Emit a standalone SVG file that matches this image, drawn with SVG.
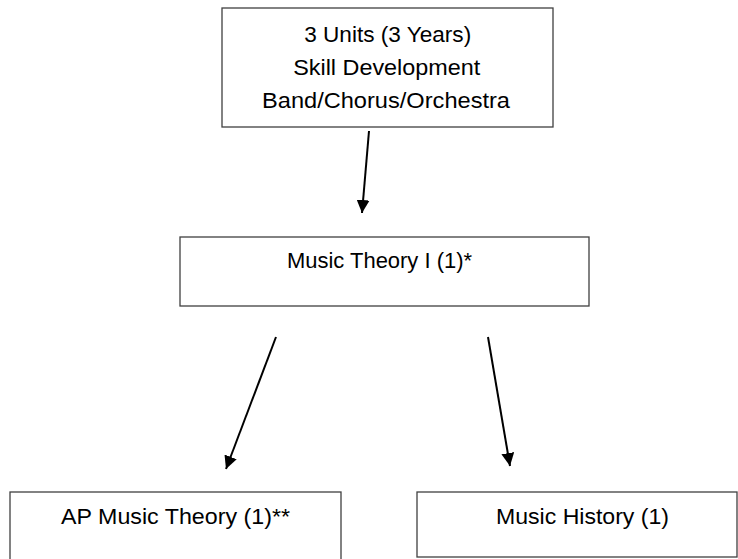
<svg xmlns="http://www.w3.org/2000/svg" width="738" height="559" viewBox="0 0 738 559">
<style>
.box{fill:#ffffff;stroke:#404040;stroke-width:1.3}
.t{font-family:"Liberation Sans",Arial,sans-serif;font-size:22px;fill:#000000;text-anchor:middle}
.c{stroke:#000000;stroke-width:2;fill:none}
</style>
<defs>
<marker id="ah" viewBox="0 0 10 10" refX="10" refY="5" markerWidth="6.5" markerHeight="6.5" markerUnits="strokeWidth" orient="auto">
<path d="M0,0 L10,5 L0,10 Z" fill="#000000"/>
</marker>
</defs>
<rect width="738" height="559" fill="#ffffff"/>
<g id="node-skill">
<rect class="box" x="222" y="8" width="331" height="119"/>
<text class="t" x="387.7" y="42" textLength="167" lengthAdjust="spacingAndGlyphs">3 Units (3 Years)</text>
<text class="t" x="386.7" y="75" textLength="187" lengthAdjust="spacingAndGlyphs">Skill Development</text>
<text class="t" x="386" y="108" textLength="248" lengthAdjust="spacingAndGlyphs">Band/Chorus/Orchestra</text>
</g>
<g id="node-theory1">
<rect class="box" x="180" y="237" width="409" height="69"/>
<text class="t" x="379.5" y="268" textLength="185" lengthAdjust="spacingAndGlyphs">Music Theory I (1)*</text>
</g>
<g id="node-ap">
<rect class="box" x="10" y="492" width="331" height="70"/>
<text class="t" x="175.5" y="524" textLength="229" lengthAdjust="spacingAndGlyphs">AP Music Theory (1)**</text>
</g>
<g id="node-history">
<rect class="box" x="417" y="492" width="320" height="65"/>
<text class="t" x="582.5" y="524" textLength="173" lengthAdjust="spacingAndGlyphs">Music History (1)</text>
</g>
<g id="connectors">
<line class="c" x1="369" y1="131" x2="362" y2="213" marker-end="url(#ah)"/>
<line class="c" x1="276" y1="337" x2="226" y2="469" marker-end="url(#ah)"/>
<line class="c" x1="488" y1="337" x2="510" y2="466" marker-end="url(#ah)"/>
</g>
</svg>
